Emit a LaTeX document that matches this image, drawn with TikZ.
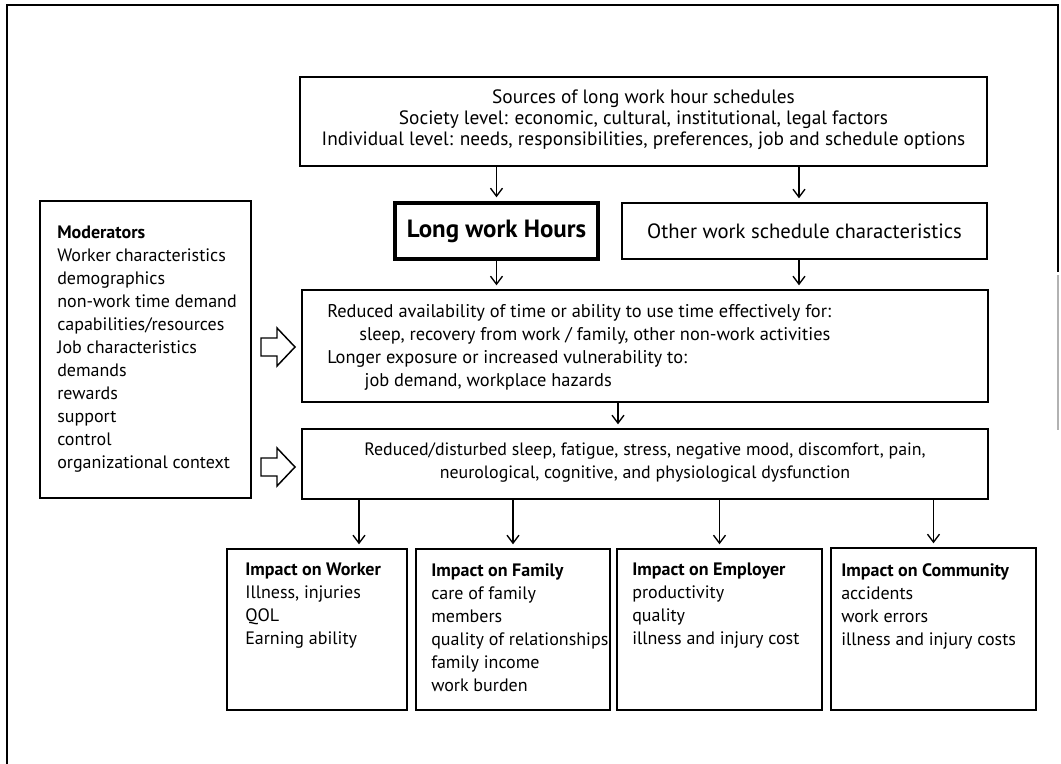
\documentclass[tikz,border=0pt]{standalone}
\usepackage{fontspec}
\setmainfont{PT Sans}
\usetikzlibrary{arrows.meta,fit,calc}
\begin{document}
\begin{tikzpicture}[x=0.75pt,y=-0.75pt,
  box/.style={draw, line width=1.1pt, inner sep=0pt},
  boldbox/.style={draw, line width=2.6pt, inner sep=0pt},
  txt/.style={inner sep=0pt, font=\fontsize{13.5}{17.25}\selectfont, align=left},
  ctxt/.style={inner sep=0pt, font=\fontsize{14.5}{15.75}\selectfont, align=center},
  arr/.style={-{Straight Barb[length=6pt,width=9pt,line width=1pt]}, line width=1pt, shorten >=3pt},
  hollow/.style={draw, line width=1.1pt, fill=white}
]
\useasboundingbox (0,0) rectangle (1061,764);
% outer frame
\draw[line width=0.8pt] (1058,272) -- (1058,5) -- (7,5) -- (7,764);
\draw[black!30, line width=0.8pt] (1058,275) -- (1058,430);

% boxes
\node[box, fit={(300,77) (987,166)}] (top) {};
\node[boldbox, fit={(395,203) (598,259)}] (long) {};
\node[box, fit={(622,203) (987,259)}] (other) {};
\node[box, fit={(40,201) (251,498)}] (mod) {};
\node[box, fit={(302,290) (988,402)}] (bthree) {};
\node[box, fit={(302,429) (988,499)}] (bfour) {};
\node[box, fit={(227,549) (407,710)}] (worker) {};
\node[box, fit={(416,549) (610,710)}] (family) {};
\node[box, fit={(617,549) (822,710)}] (employer) {};
\node[box, fit={(831,548) (1036,710)}] (community) {};

% texts
\node[ctxt] (toptxt) at ($(top.center)+(0,-2)$) {Sources of long work hour schedules\\
Society level: economic, cultural, institutional, legal factors\\
Individual level: needs, responsibilities, preferences, job and schedule options};
\node[inner sep=0pt, font=\fontsize{18.7}{20}\selectfont\bfseries] (longtxt) at (long.center) {Long work Hours};
\node[inner sep=0pt, font=\fontsize{15.5}{18}\selectfont] (othertxt) at (other.center) {Other work schedule characteristics};
\node[txt, anchor=west] (modtxt) at (57,349.5) {\textbf{Moderators}\\
Worker characteristics\\
demographics\\
non-work time demand\\
capabilities/resources\\
Job characteristics\\
demands\\
rewards\\
support\\
control\\
organizational context};
\node[txt, anchor=west, font=\fontsize{13.8}{17.25}\selectfont] (threetxt) at (327,347) {Reduced availability of time or ability to use time effectively for:\\
\hspace*{24pt}sleep, recovery from work / family, other non-work activities\\
Longer exposure or increased vulnerability to:\\
\hspace*{28pt}job demand, workplace hazards};
\node[inner sep=0pt, align=center, font=\fontsize{13.4}{17.25}\selectfont] (fourtxt) at (645,463) {Reduced/disturbed sleep, fatigue, stress, negative mood, discomfort, pain,\\
neurological, cognitive, and physiological dysfunction};
\node[txt, anchor=north west] (workertxt) at (245,563) {\textbf{Impact on Worker}\\
Illness, injuries\\
QOL\\
Earning ability};
\node[txt, anchor=north west] (familytxt) at (431,563) {\textbf{Impact on Family}\\
care of family\\
members\\
quality of relationships\\
family income\\
work burden};
\node[txt, anchor=north west] (employertxt) at (632,563) {\textbf{Impact on Employer}\\
productivity\\
quality\\
illness and injury cost};
\node[txt, anchor=north west] (communitytxt) at (841,563) {\textbf{Impact on Community}\\
accidents\\
work errors\\
illness and injury costs};

% connectors
\coordinate (xo) at (799,0);
\coordinate (xm) at (618,0);
\coordinate (xw) at (359,0);
\draw[arr] (top.south -| long.north) -- (long.north);
\draw[arr] (top.south -| xo) -- (other.north -| xo);
\draw[arr] (long.south) -- (long.south |- bthree.north);
\draw[arr] (other.south -| xo) -- (bthree.north -| xo);
\draw[arr] (bthree.south -| xm) -- (bfour.north -| xm);
\draw[arr] (bfour.south -| xw) -- (worker.north -| xw);
\draw[arr] (bfour.south -| family.north) -- (family.north);
\draw[arr] (bfour.south -| employer.north) -- (employer.north);
\draw[arr] (bfour.south -| community.north) -- (community.north);

% hollow block arrows from moderators
\draw[hollow] (261,338) -- (277,338) -- (277,328) -- (295,347) -- (277,366) -- (277,356) -- (261,356) -- cycle;
\draw[hollow] (261,458) -- (277,458) -- (277,448) -- (295,467) -- (277,486) -- (277,476) -- (261,476) -- cycle;
\end{tikzpicture}
\end{document}
